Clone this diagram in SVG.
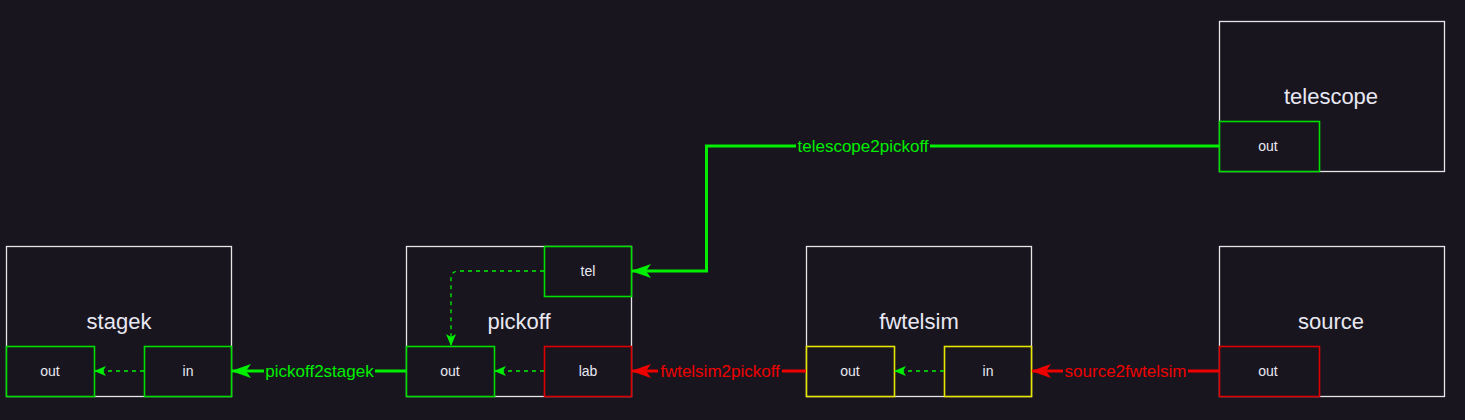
<svg xmlns="http://www.w3.org/2000/svg" width="1465" height="420" viewBox="0 0 1465 420">
<style>
.bg{fill:#18151f}
.node{fill:#18151f;stroke:#e6e6e6;stroke-width:1.3}
.port{fill:#18151f;stroke-width:1.6}
.pg{stroke:#00dd00}
.pr{stroke:#dd0000}
.py{stroke:#e6e600}
.title{font-family:"Liberation Sans",Arial,sans-serif;font-size:22px;fill:#e8e8f2;text-anchor:middle;dominant-baseline:central}
.plab{font-family:"Liberation Sans",Arial,sans-serif;font-size:14px;fill:#e8e8f2;text-anchor:middle;dominant-baseline:central}
.edge{fill:none;stroke-width:3}
.eg{stroke:#00ee00}
.er{stroke:#ee0000}
.dash{fill:none;stroke:#00ee00;stroke-width:1.3;stroke-dasharray:4 4}
.elab{font-family:"Liberation Sans",Arial,sans-serif;font-size:17px;text-anchor:middle;dominant-baseline:central}
.lg{fill:#00ee00}
.lr{fill:#ee0000}
</style>
<defs>
<marker id="ag" viewBox="0 0 20 14" refX="19" refY="7" markerWidth="20" markerHeight="14" markerUnits="userSpaceOnUse" orient="auto">
<path d="M0,0 L20,7 L0,14 L5,7 Z" fill="#00ee00"/>
</marker>
<marker id="ar" viewBox="0 0 20 14" refX="19" refY="7" markerWidth="20" markerHeight="14" markerUnits="userSpaceOnUse" orient="auto">
<path d="M0,0 L20,7 L0,14 L5,7 Z" fill="#ee0000"/>
</marker>
<marker id="ad" viewBox="0 0 12 10" refX="11" refY="5" markerWidth="12" markerHeight="10" markerUnits="userSpaceOnUse" orient="auto">
<path d="M0,0 L12,5 L0,10 L3,5 Z" fill="#00ee00"/>
</marker>
</defs>
<rect class="bg" x="0" y="0" width="1465" height="420"/>

<g id="stagek">
<rect class="node" x="6.5" y="246.5" width="225" height="150"/>
<text class="title" x="119" y="321">stagek</text>
<rect class="port pg" x="6.5" y="346.5" width="88" height="50"/>
<text class="plab" x="50" y="371">out</text>
<rect class="port pg" x="144.5" y="346.5" width="87" height="50"/>
<text class="plab" x="188" y="371">in</text>
</g>

<g id="pickoff">
<rect class="node" x="406.5" y="246.5" width="225" height="150"/>
<text class="title" x="519" y="321">pickoff</text>
<rect class="port pg" x="544.5" y="246.5" width="87" height="50"/>
<text class="plab" x="588" y="271">tel</text>
<rect class="port pg" x="406.5" y="346.5" width="88" height="50"/>
<text class="plab" x="450" y="371">out</text>
<rect class="port pr" x="544.5" y="346.5" width="87" height="50"/>
<text class="plab" x="588" y="371">lab</text>
</g>

<g id="fwtelsim">
<rect class="node" x="806.5" y="246.5" width="225" height="150"/>
<text class="title" x="919" y="321">fwtelsim</text>
<rect class="port py" x="806.5" y="346.5" width="88" height="50"/>
<text class="plab" x="850" y="371">out</text>
<rect class="port py" x="944.5" y="346.5" width="87" height="50"/>
<text class="plab" x="988" y="371">in</text>
</g>

<g id="source">
<rect class="node" x="1219.5" y="246.5" width="225" height="150"/>
<text class="title" x="1331" y="321">source</text>
<rect class="port pr" x="1219.5" y="346.5" width="100" height="50"/>
<text class="plab" x="1268" y="371">out</text>
</g>

<g id="telescope">
<rect class="node" x="1219.5" y="21.5" width="225" height="150"/>
<text class="title" x="1331" y="96">telescope</text>
<rect class="port pg" x="1219.5" y="121.5" width="100" height="50"/>
<text class="plab" x="1268" y="146">out</text>
</g>

<g id="connectors">
<path class="edge eg" d="M1219,146 H706.5 V271 H632" marker-end="url(#ag)"/>
<rect class="bg" x="796" y="136" width="134" height="20"/>
<text class="elab lg" x="863" y="146">telescope2pickoff</text>

<path class="edge eg" d="M406,371 H232" marker-end="url(#ag)"/>
<rect class="bg" x="264" y="361" width="111" height="20"/>
<text class="elab lg" x="319.5" y="371">pickoff2stagek</text>

<path class="edge er" d="M806,371 H632" marker-end="url(#ar)"/>
<rect class="bg" x="658" y="361" width="124" height="20"/>
<text class="elab lr" x="720" y="371">fwtelsim2pickoff</text>

<path class="edge er" d="M1219,371 H1032" marker-end="url(#ar)"/>
<rect class="bg" x="1063" y="361" width="125" height="20"/>
<text class="elab lr" x="1125.5" y="371">source2fwtelsim</text>

<path class="dash" d="M144,371 H95" marker-end="url(#ad)"/>
<path class="dash" d="M544,371 H495" marker-end="url(#ad)"/>
<path class="dash" d="M944,371 H895" marker-end="url(#ad)"/>
<path class="dash" d="M544,271 H459 Q451,271 451,279 V345" marker-end="url(#ad)"/>
</g>
</svg>
